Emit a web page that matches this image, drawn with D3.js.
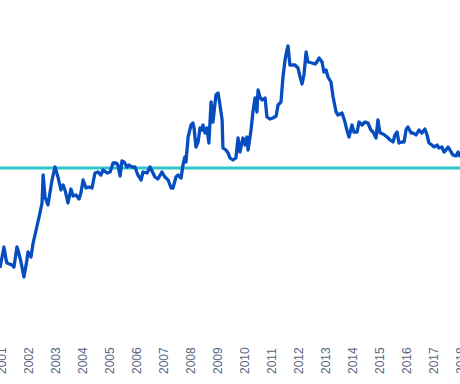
<!DOCTYPE html>
<html>
<head>
<meta charset="utf-8">
<script src="https://cdn.jsdelivr.net/npm/d3@7"></script>
<style>
  body { margin: 0; background: #fff; }
  svg { display: block; }
</style>
</head>
<body>
<div id="container"></div>
<script>
// dates as decimal years (arbitrary index units)
var dates = [2000.96, 2001.04, 2001.11, 2001.19, 2001.22, 2001.41, 2001.48, 2001.59, 2001.63, 2001.74,
  2001.85, 2001.96, 2002.00, 2002.11, 2002.19, 2002.30, 2002.41, 2002.52, 2002.56, 2002.63,
  2002.74, 2002.89, 2003.00, 2003.11, 2003.22, 2003.30, 2003.37, 2003.48, 2003.59, 2003.67,
  2003.78, 2003.89, 2003.96, 2004.04, 2004.15, 2004.26, 2004.37, 2004.48, 2004.59, 2004.70,
  2004.78, 2004.93, 2005.04, 2005.15, 2005.26, 2005.33, 2005.41, 2005.48, 2005.56, 2005.67,
  2005.74, 2005.85, 2005.96, 2006.07, 2006.19, 2006.26, 2006.41, 2006.52, 2006.63, 2006.70,
  2006.81, 2006.96, 2007.07, 2007.19, 2007.30, 2007.37, 2007.48, 2007.56, 2007.67, 2007.74,
  2007.81, 2007.85, 2007.93, 2008.04, 2008.11, 2008.15, 2008.22, 2008.30, 2008.37, 2008.44,
  2008.48, 2008.56, 2008.63, 2008.70, 2008.78, 2008.85, 2008.96, 2009.04, 2009.11, 2009.19,
  2009.22, 2009.33, 2009.41, 2009.48, 2009.59, 2009.70, 2009.78, 2009.85, 2009.96, 2010.04,
  2010.11, 2010.15, 2010.26, 2010.33, 2010.41, 2010.48, 2010.52, 2010.59, 2010.67, 2010.78,
  2010.85, 2010.96, 2011.07, 2011.19, 2011.26, 2011.37, 2011.44, 2011.52, 2011.59, 2011.63,
  2011.70, 2011.78, 2011.89, 2012.00, 2012.07, 2012.15, 2012.22, 2012.30, 2012.37, 2012.52,
  2012.63, 2012.70, 2012.78, 2012.89, 2012.96, 2013.04, 2013.11, 2013.22, 2013.30, 2013.41,
  2013.48, 2013.63, 2013.74, 2013.81, 2013.89, 2014.00, 2014.07, 2014.19, 2014.26, 2014.37,
  2014.48, 2014.59, 2014.70, 2014.78, 2014.89, 2014.96, 2015.04, 2015.15, 2015.30, 2015.41,
  2015.52, 2015.59, 2015.67, 2015.74, 2015.85, 2015.93, 2016.00, 2016.07, 2016.19, 2016.26,
  2016.37, 2016.48, 2016.59, 2016.70, 2016.78, 2016.85, 2016.96, 2017.04, 2017.15, 2017.22,
  2017.33, 2017.41, 2017.48, 2017.56, 2017.67, 2017.74, 2017.85, 2017.93, 2018.00];

var values = [26, 31.5, 36.5, 30, 28.5, 27.5, 26.5, 36.5, 35, 29,
  21.5, 30, 34, 31.5, 38.5, 45, 51.5, 58.5, 72.5, 61.5,
  57.5, 70, 76.5, 71.5, 65, 67.5, 65, 58.5, 65.5, 62,
  62.5, 60.5, 63.5, 70, 66, 66.5, 66, 73.5, 74, 72.5,
  75, 73.5, 74, 78.5, 78.5, 77.5, 72, 79.5, 79, 76.5,
  77.5, 76.5, 76.5, 72.5, 70, 74, 73.5, 76.5, 73.5, 71.5,
  70.5, 74, 71.5, 70, 66, 66, 71.5, 72.5, 71, 77.5,
  81.5, 79, 91.5, 97.5, 98.5, 96, 86.5, 89, 96, 95,
  97.5, 93.5, 96, 88.5, 109, 99, 112.5, 113.5, 107.5, 100,
  86, 85, 83.5, 81, 80, 81, 91, 84, 91, 87.5,
  91.5, 85, 95, 104, 111, 104, 115, 111.5, 110, 111,
  101.5, 100.5, 101, 102, 107.5, 109, 121, 130, 135, 137,
  127.5, 127.5, 127.5, 126, 122, 118, 122.5, 134, 129, 128.5,
  128, 129, 131, 129, 124, 125, 121.5, 119, 111.5, 104,
  102.5, 103.5, 99, 95, 91.5, 97.5, 94, 94, 99, 97.5,
  99, 98.5, 95, 94, 91, 100, 93.5, 93, 91.5, 90,
  89, 92.5, 94, 88.5, 89, 89, 95, 96.5, 93.5, 93.5,
  92.5, 95, 93.5, 95.5, 92.5, 88.5, 87.5, 86.5, 87.5, 86,
  86.5, 84, 85, 86.5, 84, 82.5, 82, 84, 81.5];

// long-run reference level (cyan line)
var refLevel = 76;

var yearTicks = d3.range(2001, 2019);

var w = 460, h = 384;

var svg = d3.select("div#container")
            .append("svg")
            .attr("width", w)
            .attr("height", h);

var x = d3.scaleLinear().domain([2001, 2018]).range([1, 460]);
var y = d3.scaleLinear().domain([0, 160]).range([320, 0]);

var series = dates.map(function(d, i) { return {t: d, v: values[i]}; });

// reference line
svg.append("line")
   .attr("x1", 0)
   .attr("x2", w)
   .attr("y1", y(refLevel))
   .attr("y2", y(refLevel))
   .attr("stroke", "#2ec5cc")
   .attr("stroke-width", 3);

var line = d3.line()
             .x(function(d) { return x(d.t); })
             .y(function(d) { return y(d.v); });

svg.append("path")
   .datum(series)
   .attr("d", line)
   .attr("fill", "none")
   .attr("stroke", "#064ec0")
   .attr("stroke-width", 3.3)
   .attr("stroke-linejoin", "round");

// x axis: rotated year labels, no domain line
var xAxis = d3.axisBottom(x)
              .tickValues(yearTicks)
              .tickFormat(d3.format("d"))
              .tickSize(0);

var gx = svg.append("g")
            .attr("transform", "translate(0,374)")
            .call(xAxis);

gx.select(".domain").remove();
gx.selectAll("text")
  .attr("transform", "rotate(-90)")
  .attr("x", 0)
  .attr("y", 0)
  .attr("dy", "0.35em")
  .style("text-anchor", "start")
  .style("font-family", "'Liberation Sans', Arial, sans-serif")
  .style("font-size", "12px")
  .attr("fill", "#5a6580");
</script>
</body>
</html>
